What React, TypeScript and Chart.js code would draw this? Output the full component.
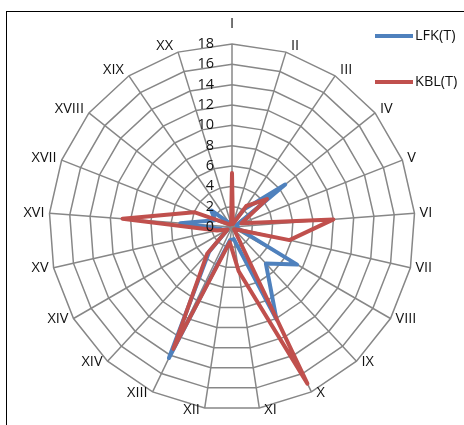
import React, { useEffect, useRef } from "react";
import { Chart, registerables } from "chart.js";

Chart.register(...registerables);

const CATEGORIES = [
  "I", "II", "III", "IV", "V", "VI", "VII", "VIII", "IX", "X", "XI",
  "XII", "XIII", "XIV", "XIV", "XV", "XVI", "XVII", "XVIII", "XIX", "XX",
];

const LFK = [0.5, 0.5, 2.1, 6.7, 0.5, 0.5, 0.6, 7.4, 4.9, 10.1, 1.2, 1.3, 14.3, 3.3, 0.5, 1.0, 5.1, 1.8, 2.6, 0.5, 0.5];
const KBL = [5.3, 0.3, 2.5, 4.4, 1.0, 10.0, 5.8, 0.5, 0.3, 17.1, 4.4, 1.5, 13.3, 3.6, 0.5, 1.5, 10.8, 4.0, 0.5, 0.3, 0.3];

const TICKS = [0, 2, 4, 6, 8, 10, 12, 14, 16, 18];
const SERIES_NAMES = ["LFK(T)", "KBL(T)"];

const BLUE = "#4F81BD";
const RED = "#C0504D";
const GRID = "#878787";
const FONT = "14.5px 'Open Sans'";
const TEXT = "#111111";

const labelsPlugin = {
  id: "excelLabels",
  afterDatasetsDraw(chart: any) {
    const ctx = chart.ctx;
    const scale = chart.scales.r;
    const n = CATEGORIES.length;
    const R = scale.drawingArea;
    ctx.save();
    ctx.font = FONT;
    ctx.fillStyle = TEXT;
    // point labels
    CATEGORIES.forEach((lab, i) => {
      const a = (i * 2 * Math.PI) / n;
      const s = Math.sin(a);
      const c = Math.cos(a);
      const p = scale.getPointPosition(i, R);
      if (i === 0) {
        ctx.textAlign = "center";
        ctx.textBaseline = "middle";
        ctx.fillText(lab, p.x, p.y - 20);
        return;
      }
      ctx.textAlign = s > 0 ? "left" : "right";
      ctx.textBaseline = "middle";
      const x = p.x + (s > 0 ? 5 : -5);
      const y = p.y - 7 * Math.max(c, 0) + 1.5 * Math.max(-c, 0);
      ctx.fillText(lab, x, y);
    });
    // tick labels
    ctx.textAlign = "right";
    ctx.textBaseline = "middle";
    TICKS.forEach((v) => {
      const d = scale.getDistanceFromCenterForValue(v);
      ctx.fillText(String(v), scale.xCenter - 18, scale.yCenter - d);
    });
    // legend
    const colors = [BLUE, RED];
    SERIES_NAMES.forEach((name, k) => {
      const y = 36 + k * 46;
      ctx.strokeStyle = colors[k];
      ctx.lineWidth = 4;
      ctx.lineCap = "butt";
      ctx.beginPath();
      ctx.moveTo(375, y);
      ctx.lineTo(413, y);
      ctx.stroke();
      ctx.textAlign = "left";
      ctx.fillText(name, 415, y);
    });
    ctx.restore();
  },
};

export default function App() {
  const ref = useRef<HTMLCanvasElement | null>(null);
  useEffect(() => {
    if (!ref.current) return;
    const chart = new Chart(ref.current, {
      type: "radar",
      data: {
        labels: CATEGORIES,
        datasets: [
          {
            label: SERIES_NAMES[0],
            data: LFK,
            borderColor: BLUE,
            backgroundColor: "transparent",
            borderWidth: 4,
            pointRadius: 0,
            fill: false,
            borderJoinStyle: "round",
            order: 1,
          },
          {
            label: SERIES_NAMES[1],
            data: KBL,
            borderColor: RED,
            backgroundColor: "transparent",
            borderWidth: 4,
            pointRadius: 0,
            fill: false,
            borderJoinStyle: "round",
            order: 0,
          },
        ],
      },
      options: {
        responsive: false,
        animation: false,
        plugins: { legend: { display: false }, tooltip: { enabled: false } },
        scales: {
          r: {
            min: 0,
            max: 18,
            ticks: { stepSize: 2, display: false },
            pointLabels: { display: false },
            grid: { color: GRID, lineWidth: 1.5 },
            angleLines: { color: GRID, lineWidth: 1.5 },
            afterFit: (s: any) => {
              s.xCenter = 232;
              s.yCenter = 227;
              s.drawingArea = 183;
            },
          },
        },
      } as any,
      plugins: [labelsPlugin],
    });
    return () => chart.destroy();
  }, []);
  return (
    <div style={{ position: "absolute", left: 0, top: 0, width: 464, height: 425, overflow: "hidden", background: "#fff" }}>
      <div style={{ position: "absolute", left: 6, top: 11, width: 520, height: 520, border: "1px solid #000", boxSizing: "border-box" }} />
      <canvas ref={ref} width={464} height={425} style={{ position: "absolute", left: 0, top: 0, display: "block" }} />
    </div>
  );
}
